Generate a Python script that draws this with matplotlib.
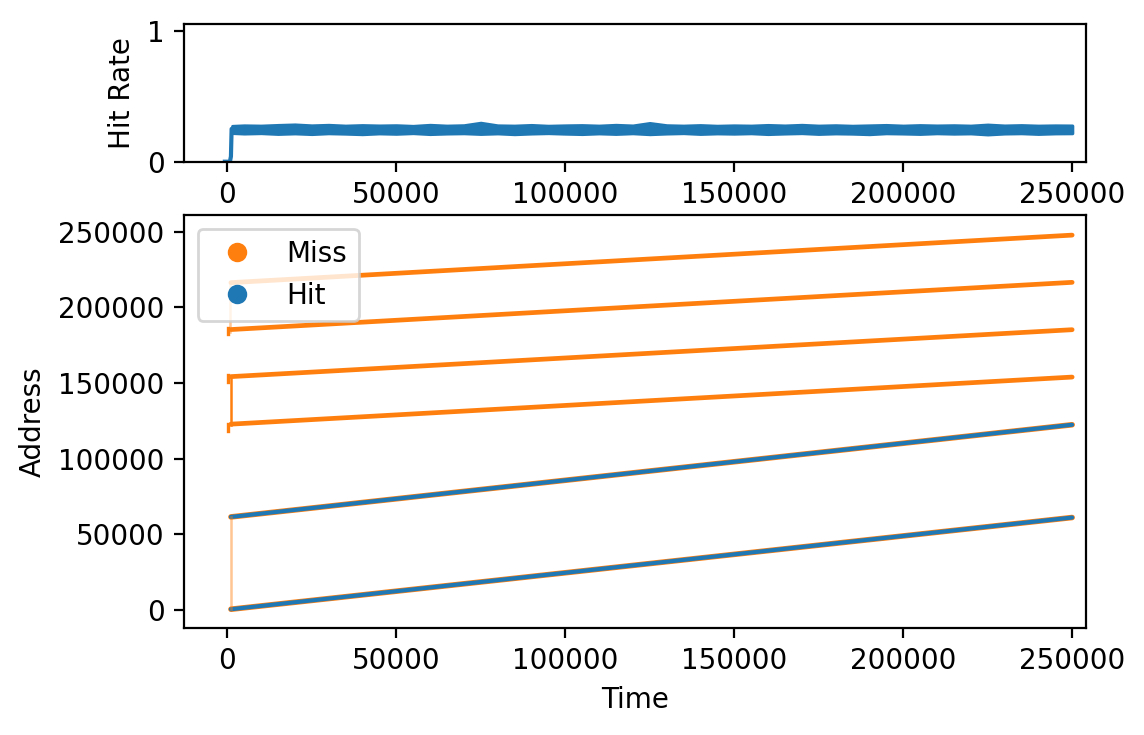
import numpy as np
import matplotlib
matplotlib.use("Agg")
import matplotlib.pyplot as plt
from matplotlib.lines import Line2D

# ---- hit rate (top) ----
# start-up ramp before the steady state
ramp_t = [-700, 800, 1100, 1300, 1500]
ramp_hr = [0.0, 0.0, 0.04, 0.25, 0.25]

# steady state band, envelope
band_t = [1500, 5000, 10000, 15000, 20000, 25000, 30000, 35000, 40000, 45000,
          50000, 55000, 60000, 65000, 70000, 75000, 80000, 85000, 90000, 95000,
          100000, 105000, 110000, 115000, 120000, 125000, 130000, 135000, 140000,
          145000, 150000, 155000, 160000, 165000, 170000, 175000, 180000, 185000,
          190000, 195000, 200000, 205000, 210000, 215000, 220000, 225000, 230000,
          235000, 240000, 245000, 250000]
band_hi = [0.272, 0.276, 0.274, 0.279, 0.283, 0.276, 0.280, 0.274, 0.278, 0.275,
           0.277, 0.272, 0.280, 0.274, 0.277, 0.296, 0.276, 0.274, 0.279, 0.273,
           0.276, 0.278, 0.274, 0.280, 0.275, 0.294, 0.277, 0.274, 0.278, 0.273,
           0.276, 0.274, 0.279, 0.275, 0.280, 0.274, 0.277, 0.273, 0.276, 0.279,
           0.274, 0.278, 0.275, 0.277, 0.274, 0.282, 0.275, 0.278, 0.274, 0.276,
           0.275]
band_lo = [0.220, 0.216, 0.219, 0.213, 0.217, 0.212, 0.218, 0.215, 0.211, 0.217,
           0.214, 0.219, 0.212, 0.216, 0.218, 0.213, 0.217, 0.211, 0.216, 0.219,
           0.215, 0.212, 0.217, 0.213, 0.218, 0.211, 0.216, 0.219, 0.213, 0.217,
           0.215, 0.218, 0.212, 0.216, 0.219, 0.213, 0.217, 0.215, 0.211, 0.218,
           0.216, 0.213, 0.218, 0.215, 0.217, 0.209, 0.216, 0.218, 0.213, 0.217,
           0.218]

# ---- access pattern (bottom): straight runs, start / end points ----
# miss runs (orange)
miss_t0 = [1100, 1100, 1100, 1100]
miss_t1 = [250000, 250000, 250000, 250000]
miss_a0 = [216300, 185300, 154200, 122800]
miss_a1 = [247700, 216500, 185200, 153900]
# hit runs (blue, drawn over orange misses)
hit_t0 = [1100, 1100]
hit_t1 = [250000, 250000]
hit_a0 = [61500, 500]
hit_a1 = [122400, 61100]
# vertical miss jumps at start
jump_t = [1100, 1000, 800]
jump_a0 = [500, 122500, 184000]
jump_a1 = [61500, 153500, 216300]
jump_alpha = [0.45, 1.0, 0.45]
# little stubs at time ~0
stub_t = [100, 100, 100]
stub_a0 = [118500, 150800, 182400]
stub_a1 = [123000, 155300, 186000]

fig = plt.figure(figsize=(5.72, 3.675), dpi=200)
ax1 = fig.add_axes([0.1608, 0.780, 0.7885, 0.1873])
ax2 = fig.add_axes([0.1608, 0.146, 0.7885, 0.5615])

ax1.plot(ramp_t, ramp_hr, color='C0', lw=1.5)
ax1.fill_between(band_t, band_lo, band_hi, color='C0', lw=1.2)
ax1.set_ylim(0, 1.05)
ax1.set_yticks([0, 1])
ax1.set_xlim(-12800, 254100)
ax1.set_xticks([0, 50000, 100000, 150000, 200000, 250000])
ax1.set_ylabel('Hit Rate')

for t0, t1, a0, a1 in zip(miss_t0, miss_t1, miss_a0, miss_a1):
    ax2.plot([t0, t1], [a0, a1], color='C1', lw=1.7, solid_capstyle='round')
for t0, t1, a0, a1 in zip(hit_t0, hit_t1, hit_a0, hit_a1):
    ax2.plot([t0, t1], [a0, a1], color='C1', lw=2.0, solid_capstyle='round')
    ax2.plot([t0, t1], [a0, a1], color='C0', lw=1.5, solid_capstyle='round')
for t, a0, a1, al in zip(jump_t, jump_a0, jump_a1, jump_alpha):
    ax2.plot([t, t], [a0, a1], color='C1', lw=0.9, alpha=al)
for t, a0, a1 in zip(stub_t, stub_a0, stub_a1):
    ax2.plot([t, t], [a0, a1], color='C1', lw=1.2)

ax2.set_xlim(-12800, 254100)
ax2.set_ylim(-11700, 261000)
ax2.set_xticks([0, 50000, 100000, 150000, 200000, 250000])
ax2.set_yticks([0, 50000, 100000, 150000, 200000, 250000])
ax2.set_xlabel('Time')
ax2.set_ylabel('Address')

handles = [Line2D([], [], ls='', marker='o', ms=6, color='C1'),
           Line2D([], [], ls='', marker='o', ms=6, color='C0')]
ax2.legend(handles, ['Miss', 'Hit'], loc='upper left')

fig.savefig('out.png', dpi=200)
